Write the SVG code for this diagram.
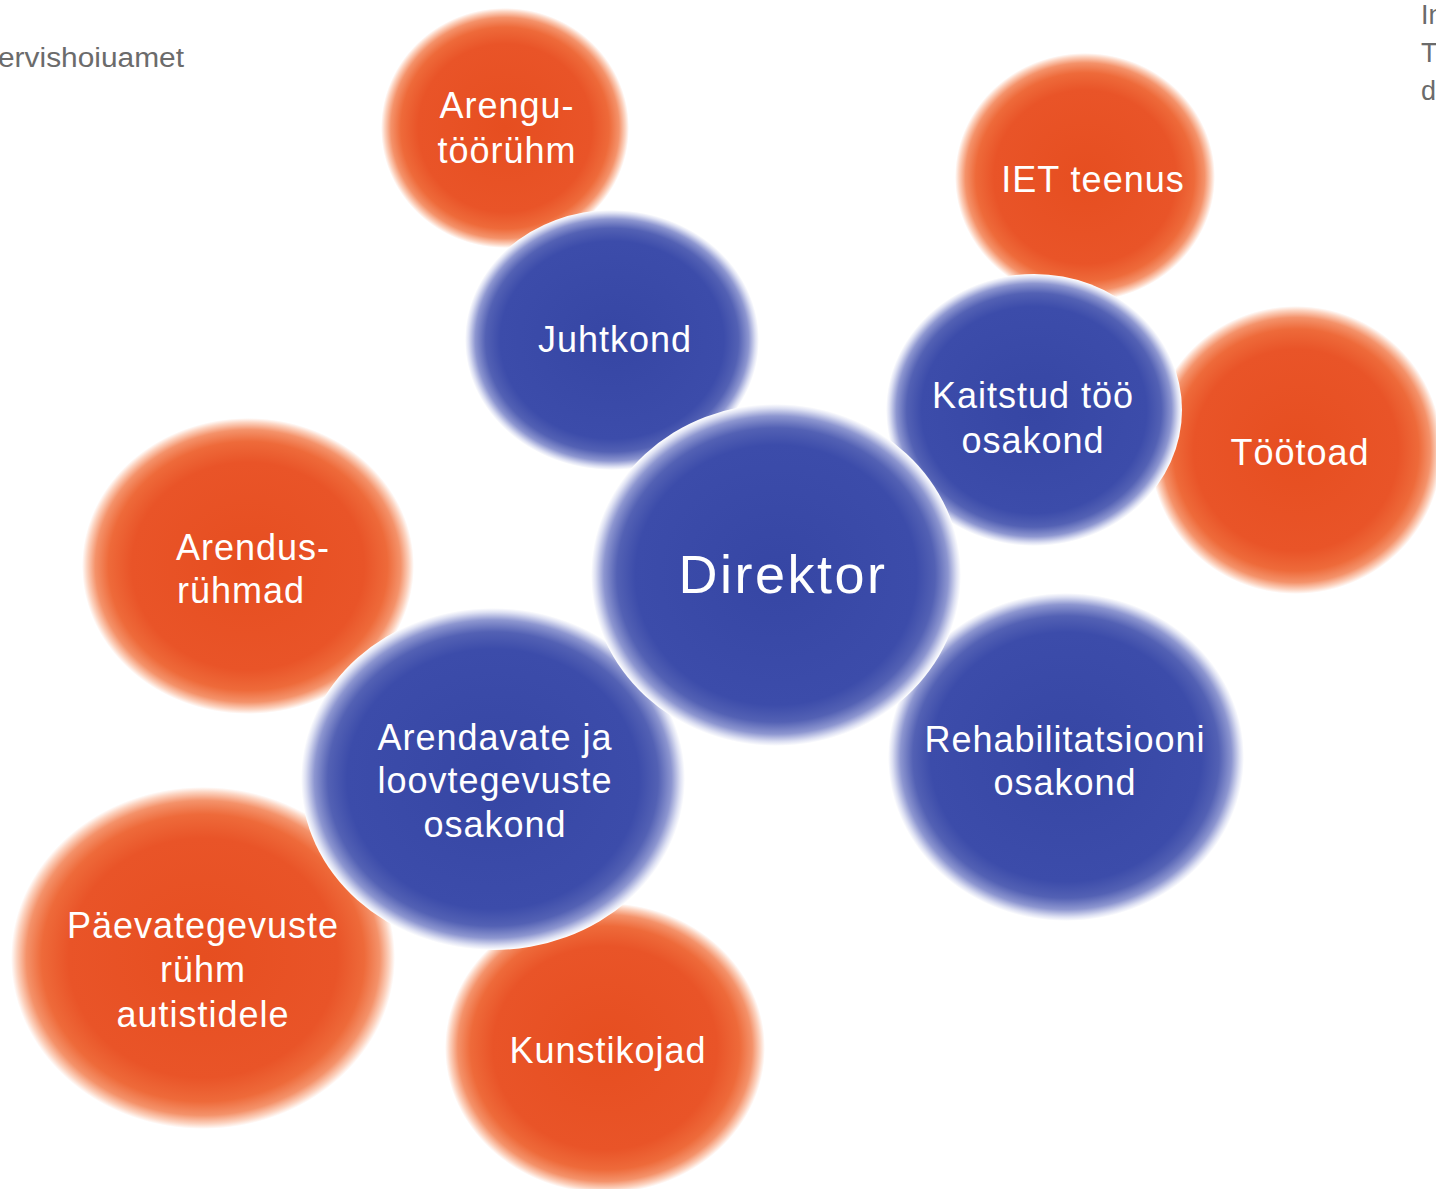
<svg xmlns="http://www.w3.org/2000/svg" width="1436" height="1189" viewBox="0 0 1436 1189">
<defs>
<radialGradient id="gBlue">
<stop offset="0" stop-color="#3646a4"/>
<stop offset="0.76" stop-color="#3c4caa"/>
<stop offset="0.86" stop-color="#5361b4"/>
<stop offset="0.93" stop-color="#8d96d0"/>
<stop offset="0.975" stop-color="#dcdff2"/>
<stop offset="1" stop-color="#ffffff"/>
</radialGradient>
<radialGradient id="gOrange">
<stop offset="0" stop-color="#e64e20"/>
<stop offset="0.7" stop-color="#e95428"/>
<stop offset="0.84" stop-color="#ee6a3a"/>
<stop offset="0.92" stop-color="#f4926a"/>
<stop offset="0.97" stop-color="#fcd3c0"/>
<stop offset="1" stop-color="#ffffff"/>
</radialGradient>
</defs>
<style>
.b{fill:url(#gBlue)}
.o{fill:url(#gOrange)}
.t{font-family:"Liberation Sans","DejaVu Sans",sans-serif;font-size:36px;fill:#ffffff;text-anchor:middle;letter-spacing:1px}
.big{font-size:54px;letter-spacing:2.5px}
.g{font-family:"Liberation Sans","DejaVu Sans",sans-serif;font-size:27px;fill:#6b6b6b}
</style>
<rect width="1436" height="1189" fill="#ffffff"/>
<text class="g" x="-2" y="67" textLength="186" lengthAdjust="spacingAndGlyphs">ervishoiuamet</text>
<text class="g" x="1421" y="24">In</text>
<text class="g" x="1421" y="62">T</text>
<text class="g" x="1421" y="100">d</text>
<g id="connectors"></g>
<g id="arengu"><ellipse class="o" cx="505" cy="128" rx="124" ry="120"/><text class="t" x="507" y="118">Arengu-</text><text class="t" x="507" y="163">töörühm</text></g>
<g id="iet"><ellipse class="o" cx="1085" cy="177" rx="130" ry="124"/><text class="t" x="1093" y="192">IET teenus</text></g>
<g id="tootoad"><ellipse class="o" cx="1296" cy="450" rx="146" ry="144"/><text class="t" x="1300" y="465">Töötoad</text></g>
<g id="arendus"><ellipse class="o" cx="248" cy="566" rx="166" ry="148"/><text class="t" x="253" y="560">Arendus-</text><text class="t" x="241" y="603">rühmad</text></g>
<g id="paeva"><ellipse class="o" cx="203" cy="958" rx="192" ry="171"/><text class="t" x="203" y="938">Päevategevuste</text><text class="t" x="203" y="982">rühm</text><text class="t" x="203" y="1027">autistidele</text></g>
<g id="kunst"><ellipse class="o" cx="605" cy="1048" rx="160" ry="145"/><text class="t" x="608" y="1063">Kunstikojad</text></g>
<g id="juhtkond"><ellipse class="b" cx="612" cy="340" rx="147" ry="130"/><text class="t" x="615" y="352">Juhtkond</text></g>
<g id="kaitstud"><ellipse class="b" cx="1034" cy="410" rx="148" ry="136"/><text class="t" x="1033" y="408">Kaitstud töö</text><text class="t" x="1033" y="453">osakond</text></g>
<g id="rehab"><ellipse class="b" cx="1066" cy="757" rx="178" ry="164"/><text class="t" x="1065" y="752">Rehabilitatsiooni</text><text class="t" x="1065" y="795">osakond</text></g>
<g id="arendavate"><ellipse class="b" cx="493" cy="779" rx="192" ry="171"/><text class="t" x="495" y="750">Arendavate ja</text><text class="t" x="495" y="793">loovtegevuste</text><text class="t" x="495" y="837">osakond</text></g>
<g id="direktor"><ellipse class="b" cx="776" cy="575" rx="185" ry="171"/><text class="t big" x="783" y="593">Direktor</text></g>
</svg>
